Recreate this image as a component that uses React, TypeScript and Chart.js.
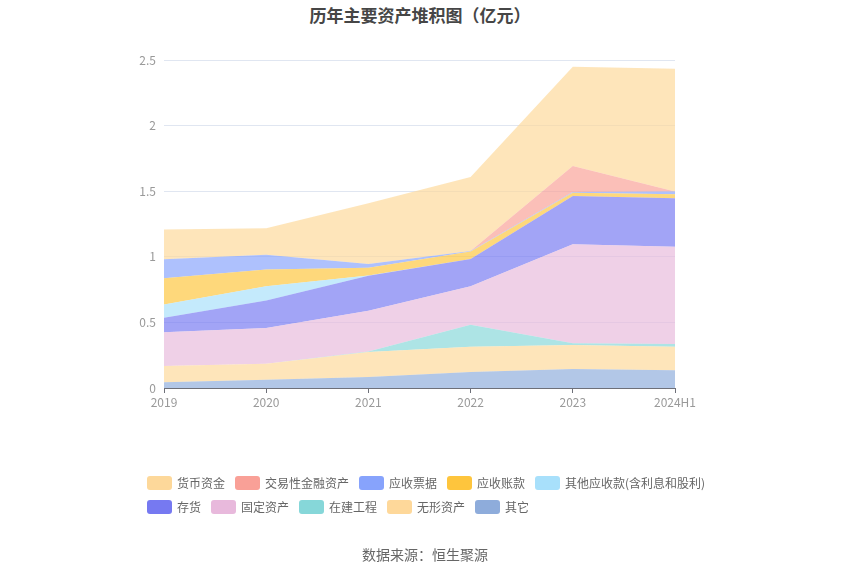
import React, { useEffect, useRef } from "react";
import { Chart, registerables } from "chart.js";

Chart.register(...registerables);

const years = ["2019", "2020", "2021", "2022", "2023", "2024H1"];
const yTicks = [0, 0.5, 1, 1.5, 2, 2.5];

// series values (亿元), bottom of stack first
const qita = [0.043, 0.063, 0.084, 0.122, 0.145, 0.135];
const wuxingZichan = [0.124, 0.122, 0.19, 0.193, 0.182, 0.18];
const zaijianGongcheng = [0, 0, 0.005, 0.167, 0.015, 0.02];
const gudingZichan = [0.257, 0.272, 0.309, 0.294, 0.754, 0.741];
const cunhuo = [0.111, 0.21, 0.267, 0.208, 0.368, 0.37];
const qitaYingshou = [0.102, 0.109, 0.002, 0, 0, 0];
const yingshouZhangkuan = [0.2, 0.127, 0.059, 0.056, 0.025, 0.031];
const yingshouPiaoju = [0.145, 0.112, 0.03, 0.005, 0.005, 0.02];
const jiaoyixingJinrong = [0, 0, 0, 0, 0.198, 0];
const huobiZijin = [0.226, 0.203, 0.462, 0.563, 0.756, 0.936];

const seriesNames = [
  "货币资金",
  "交易性金融资产",
  "应收票据",
  "应收账款",
  "其他应收款(含利息和股利)",
  "存货",
  "固定资产",
  "在建工程",
  "无形资产",
  "其它",
];
const seriesColors = [
  "#fdd89a",
  "#f9a097",
  "#87a3fc",
  "#fec53d",
  "#a8e0fb",
  "#7679f1",
  "#e8b9dc",
  "#86d7d9",
  "#fed89a",
  "#8eacdb",
];
const seriesData = [
  huobiZijin,
  jiaoyixingJinrong,
  yingshouPiaoju,
  yingshouZhangkuan,
  qitaYingshou,
  cunhuo,
  gudingZichan,
  zaijianGongcheng,
  wuxingZichan,
  qita,
];

function hexA(hex: string, a: number) {
  const r = parseInt(hex.slice(1, 3), 16);
  const g = parseInt(hex.slice(3, 5), 16);
  const b = parseInt(hex.slice(5, 7), 16);
  return `rgba(${r},${g},${b},${a})`;
}

const FONT = '"Noto Sans CJK SC", "Noto Sans", sans-serif';

export default function App() {
  const ref = useRef<HTMLCanvasElement | null>(null);

  useEffect(() => {
    document.body.style.margin = "0";
    const ctx = ref.current;
    if (!ctx) return;
    // bottom-of-stack first
    const order = [9, 8, 7, 6, 5, 4, 3, 2, 1, 0];
    const datasets = order.map((i, k) => ({
      label: seriesNames[i],
      data: seriesData[i],
      backgroundColor: hexA(seriesColors[i], 0.68),
      borderColor: "rgba(0,0,0,0)",
      borderWidth: 0,
      pointRadius: 0,
      pointHoverRadius: 0,
      tension: 0,
      fill: k === 0 ? "origin" : "-1",
    }));
    const chart = new Chart(ctx, {
      type: "line",
      data: { labels: years, datasets },
      options: {
        animation: false,
        responsive: false,
        devicePixelRatio: 1,
        layout: { padding: { left: 0, right: 175, top: 60, bottom: 157 } },
        plugins: {
          legend: { display: false },
          tooltip: { enabled: false },
          title: { display: false },
        },
        scales: {
          x: {
            offset: false,
            grid: {
              display: true,
              drawOnChartArea: false,
              drawTicks: true,
              tickLength: 5,
              color: "#6e7079",
            },
            border: { display: true, color: "#6e7079" },
            ticks: {
              color: "#999",
              font: { size: 12, family: FONT },
              padding: 2,
              maxRotation: 0,
              autoSkip: false,
            },
            afterFit: (s: any) => {
              s.height = 30;
            },
          },
          y: {
            stacked: true,
            min: 0,
            max: 2.5,
            afterBuildTicks: (s: any) => {
              s.ticks = yTicks.map((v) => ({ value: v }));
            },
            grid: { color: "#e0e6f1", drawTicks: false },
            border: { display: false },
            ticks: {
              color: "#999",
              font: { size: 12, family: FONT },
              padding: 8,
              callback: (v: any) => String(v),
            },
            afterFit: (s: any) => {
              s.width = 164;
            },
          },
        },
      },
    });
    return () => chart.destroy();
  }, []);

  const row1 = [0, 1, 2, 3, 4];
  const row2 = [5, 6, 7, 8, 9];
  const renderRow = (idx: number[], top: number) => (
    <div
      style={{
        position: "absolute",
        left: 147,
        top,
        display: "flex",
        alignItems: "center",
        height: 14,
        whiteSpace: "nowrap",
      }}
    >
      {idx.map((i) => (
        <div key={i} style={{ display: "flex", alignItems: "center", marginRight: 10 }}>
          <div
            style={{
              width: 25,
              height: 14,
              borderRadius: 3,
              background: seriesColors[i],
              marginRight: 5,
            }}
          />
          <span style={{ fontSize: 12, color: "#666", fontFamily: FONT, lineHeight: "14px" }}>
            {seriesNames[i]}
          </span>
        </div>
      ))}
    </div>
  );

  return (
    <div
      style={{
        position: "fixed",
        left: 0,
        top: 0,
        width: 850,
        height: 575,
        background: "#fff",
        fontFamily: FONT,
      }}
    >
      <div
        style={{
          position: "absolute",
          left: 0,
          top: 3,
          width: 840,
          textAlign: "center",
          fontSize: 17,
          fontWeight: "bold",
          color: "#464646",
          lineHeight: "24px",
        }}
      >
        历年主要资产堆积图（亿元）
      </div>
      <canvas ref={ref} width={850} height={575} style={{ position: "absolute", left: 0, top: 0 }} />
      {renderRow(row1, 476)}
      {renderRow(row2, 500)}
      <div
        style={{
          position: "absolute",
          left: 0,
          top: 544,
          width: 850,
          textAlign: "center",
          fontSize: 14,
          color: "#666",
          lineHeight: "20px",
        }}
      >
        数据来源：恒生聚源
      </div>
    </div>
  );
}
